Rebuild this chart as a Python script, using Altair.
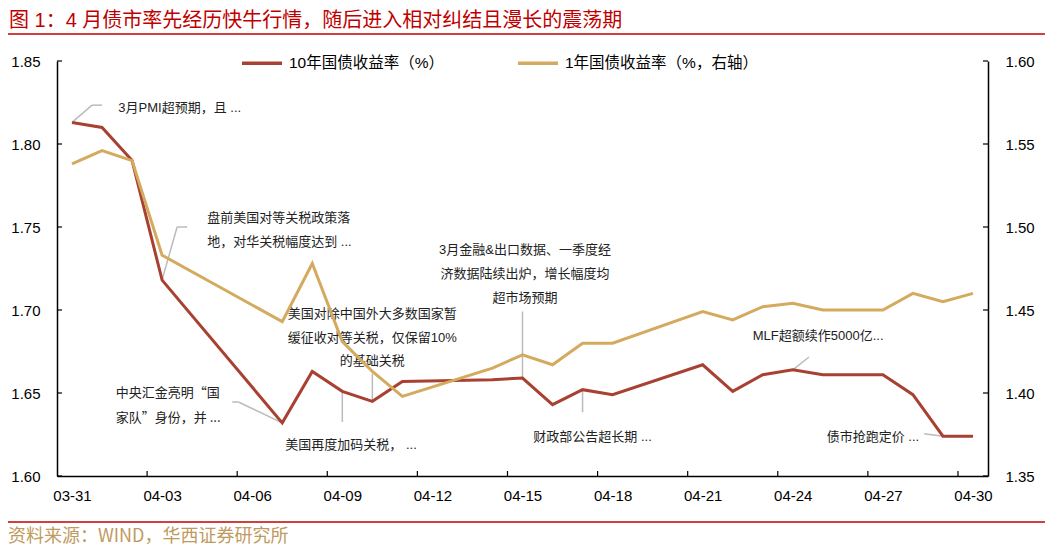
import altair as alt
import pandas as pd

# ---------------- data ----------------
dates = ["2025-03-31", "2025-04-01", "2025-04-02", "2025-04-03", "2025-04-07", "2025-04-08",
         "2025-04-09", "2025-04-10", "2025-04-11", "2025-04-14", "2025-04-15", "2025-04-16",
         "2025-04-17", "2025-04-18", "2025-04-21", "2025-04-22", "2025-04-23", "2025-04-24",
         "2025-04-25", "2025-04-27", "2025-04-28", "2025-04-29", "2025-04-30"]
ten_year = [1.813, 1.810, 1.790, 1.718, 1.632, 1.663, 1.651, 1.645, 1.657, 1.658, 1.659, 1.643,
            1.652, 1.649, 1.667, 1.651, 1.661, 1.664, 1.661, 1.661, 1.649, 1.624, 1.624]
one_year = [1.538, 1.546, 1.540, 1.483, 1.443, 1.478, 1.431, 1.413, 1.398, 1.415, 1.423, 1.417,
            1.430, 1.430, 1.449, 1.444, 1.452, 1.454, 1.450, 1.450, 1.460, 1.455, 1.460]
series_names = ["10年国债收益率（%）", "1年国债收益率（%，右轴）"]

left_ticks = [1.60, 1.65, 1.70, 1.75, 1.80, 1.85]
right_ticks = [1.35, 1.40, 1.45, 1.50, 1.55, 1.60]
label_days = [(3, 31), (4, 3), (4, 6), (4, 9), (4, 12), (4, 15), (4, 18), (4, 21), (4, 24), (4, 27), (4, 30)]
tick_marks = ["2025-04-02T12:00:00", "2025-04-05T12:00:00", "2025-04-08T12:00:00", "2025-04-11T12:00:00",
              "2025-04-14T12:00:00", "2025-04-17T12:00:00", "2025-04-20T12:00:00", "2025-04-23T12:00:00",
              "2025-04-26T12:00:00", "2025-04-29T12:00:00"]

# annotation lines (text, anchor date, anchor value on left axis)
ann_left_text = ["3月PMI超预期，且 ...", "盘前美国对等关税政策落", "地，对华关税幅度达到 ...",
                 "MLF超额续作5000亿..."]
ann_left_date = ["2025-04-01T13:00:00", "2025-04-04T12:00:00", "2025-04-04T12:00:00",
                 "2025-04-22T16:00:00"]
ann_left_val = [1.8215, 1.7552, 1.7408, 1.6842]

ann_quote_text = ["中央汇金亮明“国", "家队”身份，并 ..."]
ann_quote_date = ["2025-04-01T11:00:00", "2025-04-01T11:00:00"]
ann_quote_val = [1.6500, 1.6352]

ann_center_text = ["美国对除中国外大多数国家暂", "缓征收对等关税，仅保留10%", "的基础关税",
                   "美国再度加码关税， ...",
                   "3月金融&出口数据、一季度经", "济数据陆续出炉，增长幅度均", "超市场预期",
                   "财政部公告超长期 ...", "债市抢跑定价 ..."]
ann_center_date = ["2025-04-10T00:00:00", "2025-04-10T00:00:00", "2025-04-10T00:00:00",
                   "2025-04-09T07:00:00",
                   "2025-04-15T02:00:00", "2025-04-15T02:00:00", "2025-04-15T02:00:00",
                   "2025-04-17T08:00:00", "2025-04-26T16:00:00"]
ann_center_val = [1.6978, 1.6834, 1.6690, 1.6185, 1.7360, 1.7215, 1.7070, 1.6233, 1.6233]

# leader line segments
lead_x0 = ["2025-03-31T00:00:00", "2025-03-31T16:00:00", "2025-04-03T00:00:00", "2025-04-03T12:00:00",
           "2025-04-05T08:00:00", "2025-04-05T13:00:00", "2025-04-10T00:00:00", "2025-04-09T00:00:00",
           "2025-04-15T00:00:00", "2025-04-17T00:00:00", "2025-04-24T00:00:00", "2025-04-28T09:00:00"]
lead_x1 = ["2025-03-31T16:00:00", "2025-04-01T00:00:00", "2025-04-03T12:00:00", "2025-04-03T20:00:00",
           "2025-04-05T13:00:00", "2025-04-07T00:00:00", "2025-04-10T00:00:00", "2025-04-09T00:00:00",
           "2025-04-15T00:00:00", "2025-04-17T00:00:00", "2025-04-24T13:00:00", "2025-04-29T00:00:00"]
lead_y0 = [1.813, 1.8234, 1.7183, 1.750, 1.6446, 1.6446, 1.6617, 1.6506, 1.6991, 1.6384, 1.6639, 1.6255]
lead_y1 = [1.8234, 1.8234, 1.750, 1.750, 1.6446, 1.632, 1.645, 1.6325, 1.6589, 1.652, 1.6717, 1.624]

title_text = "图 1：4 月债市率先经历快牛行情，随后进入相对纠结且漫长的震荡期"
source_text = "资料来源：WIND，华西证券研究所"

# ---------------- styles ----------------
RED = "#A84132"
GOLD = "#D4AA5F"
TITLE_RED = "#C00000"
FONT = "'Liberation Sans', 'Noto Sans CJK SC', sans-serif"
CJK = "'Noto Sans CJK SC', sans-serif"
W, H = 931, 415

ts = lambda d: d + "T00:00:00" if "T" not in d else d

df10 = pd.DataFrame({"date": [ts(d) for d in dates], "v": ten_year, "series": series_names[0]})
df1 = pd.DataFrame({"date": [ts(d) for d in dates], "v": one_year, "series": series_names[1]})

xscale = alt.Scale(domain=[alt.DateTime(year=2025, month=3, date=30, hours=12),
                           alt.DateTime(year=2025, month=4, date=30, hours=12)])
xaxis = alt.Axis(values=[alt.DateTime(year=2025, month=m, date=d) for m, d in label_days],
                 format="%m-%d", title=None, ticks=False, grid=False, labelPadding=12,
                 labelFontSize=15, labelFont=FONT, labelColor="#000", domainColor="#000",
                 domainWidth=1.5, labelFlush=False)
lscale = alt.Scale(domain=[1.60, 1.85], nice=False, zero=False)
rscale = alt.Scale(domain=[1.35, 1.60], nice=False, zero=False)
laxis = alt.Axis(orient="left", values=left_ticks, format=".2f", title=None, ticks=False, grid=False,
                 labelPadding=17, labelFontSize=15, labelFont=FONT, labelColor="#000",
                 domainColor="#000", domainWidth=1.5)
raxis = alt.Axis(orient="right", values=right_ticks, format=".2f", title=None, ticks=False, grid=False,
                 labelPadding=17, labelFontSize=15, labelFont=FONT, labelColor="#000",
                 domainColor="#000", domainWidth=1.5)
cscale = alt.Scale(domain=series_names, range=[RED, GOLD])
legend = alt.Legend(title=None, orient="none", legendX=183, legendY=-20, direction="horizontal",
                    symbolType="stroke", symbolSize=1600, symbolStrokeWidth=3.5, labelFontSize=15.5,
                    labelFont=FONT, labelColor="#000", labelOffset=5, columnPadding=66, padding=0,
                    labelLimit=400)

X = lambda f: alt.X(f, scale=xscale, axis=xaxis)
YL = lambda f: alt.Y(f, scale=lscale, axis=laxis)
YR = lambda f: alt.Y(f, scale=rscale, axis=raxis)

red_line = alt.Chart(df10).mark_line(strokeWidth=3).encode(
    x=X("date:T"), y=YL("v:Q"), color=alt.Color("series:N", scale=cscale, legend=legend))
gold_line = alt.Chart(df1).mark_line(strokeWidth=3).encode(
    x=X("date:T"), y=YR("v:Q"), color=alt.Color("series:N", scale=cscale, legend=legend))

leaders = alt.Chart(pd.DataFrame({"x0": lead_x0, "x1": lead_x1, "y0": lead_y0, "y1": lead_y1})).mark_rule(
    color="#BBBBBB", strokeWidth=1.5).encode(x=X("x0:T"), x2="x1:T", y=YL("y0:Q"), y2="y1:Q")

ann_l = alt.Chart(pd.DataFrame({"t": ann_left_text, "d": ann_left_date, "v": ann_left_val})).mark_text(
    align="left", baseline="middle", fontSize=13, font=FONT, color="#222").encode(
    x=X("d:T"), y=YL("v:Q"), text="t:N")
ann_q = alt.Chart(pd.DataFrame({"t": ann_quote_text, "d": ann_quote_date, "v": ann_quote_val})).mark_text(
    align="left", baseline="middle", fontSize=13, font=CJK, color="#222").encode(
    x=X("d:T"), y=YL("v:Q"), text="t:N")
ann_c = alt.Chart(pd.DataFrame({"t": ann_center_text, "d": ann_center_date, "v": ann_center_val})).mark_text(
    align="center", baseline="middle", fontSize=13, font=FONT, color="#222").encode(
    x=X("d:T"), y=YL("v:Q"), text="t:N")

xticks = alt.Chart(pd.DataFrame({"t": tick_marks})).mark_rule(color="#000", strokeWidth=1.2).encode(
    x=X("t:T"), y=alt.value(H), y2=alt.value(H - 5))
lticks = alt.Chart(pd.DataFrame({"v": left_ticks})).mark_rule(color="#000", strokeWidth=1.2).encode(
    y=YL("v:Q"), x=alt.value(0), x2=alt.value(5))
rticks = alt.Chart(pd.DataFrame({"v": right_ticks})).mark_rule(color="#000", strokeWidth=1.2).encode(
    y=YR("v:Q"), x=alt.value(W - 5), x2=alt.value(W))

# frame decorations: title, rules, source
title = alt.Chart(pd.DataFrame({"t": [title_text]})).mark_text(
    align="left", baseline="alphabetic", fontSize=20, font=FONT, color=TITLE_RED).encode(
    x=alt.value(-48), y=alt.value(-34.5), text="t:N")
top_rule = alt.Chart(pd.DataFrame({"a": [0]})).mark_rule(color=TITLE_RED, strokeWidth=1.5).encode(
    x=alt.value(-49), x2=alt.value(W + 57), y=alt.value(-27))
bottom_rule = alt.Chart(pd.DataFrame({"a": [0]})).mark_rule(color=TITLE_RED, strokeWidth=1.5).encode(
    x=alt.value(-49), x2=alt.value(W + 57), y=alt.value(461))
source = alt.Chart(pd.DataFrame({"t": [source_text]})).mark_text(
    align="left", baseline="middle", fontSize=18, font=CJK, color="#BF9A5E").encode(
    x=alt.value(-49), y=alt.value(476), text="t:N")

left_group = alt.layer(leaders, xticks, lticks, red_line, ann_l, ann_q, ann_c,
                       title, top_rule, bottom_rule, source)
right_group = alt.layer(gold_line, rticks)

chart = alt.layer(left_group, right_group).resolve_scale(y="independent").properties(
    width=W, height=H,
    padding={"left": 49, "top": 53, "right": 57, "bottom": 70},
    autosize=alt.AutoSizeParams(type="none"),
).configure_view(stroke=None)

chart.save("out.html", embed_options={"renderer": "svg", "actions": False})
